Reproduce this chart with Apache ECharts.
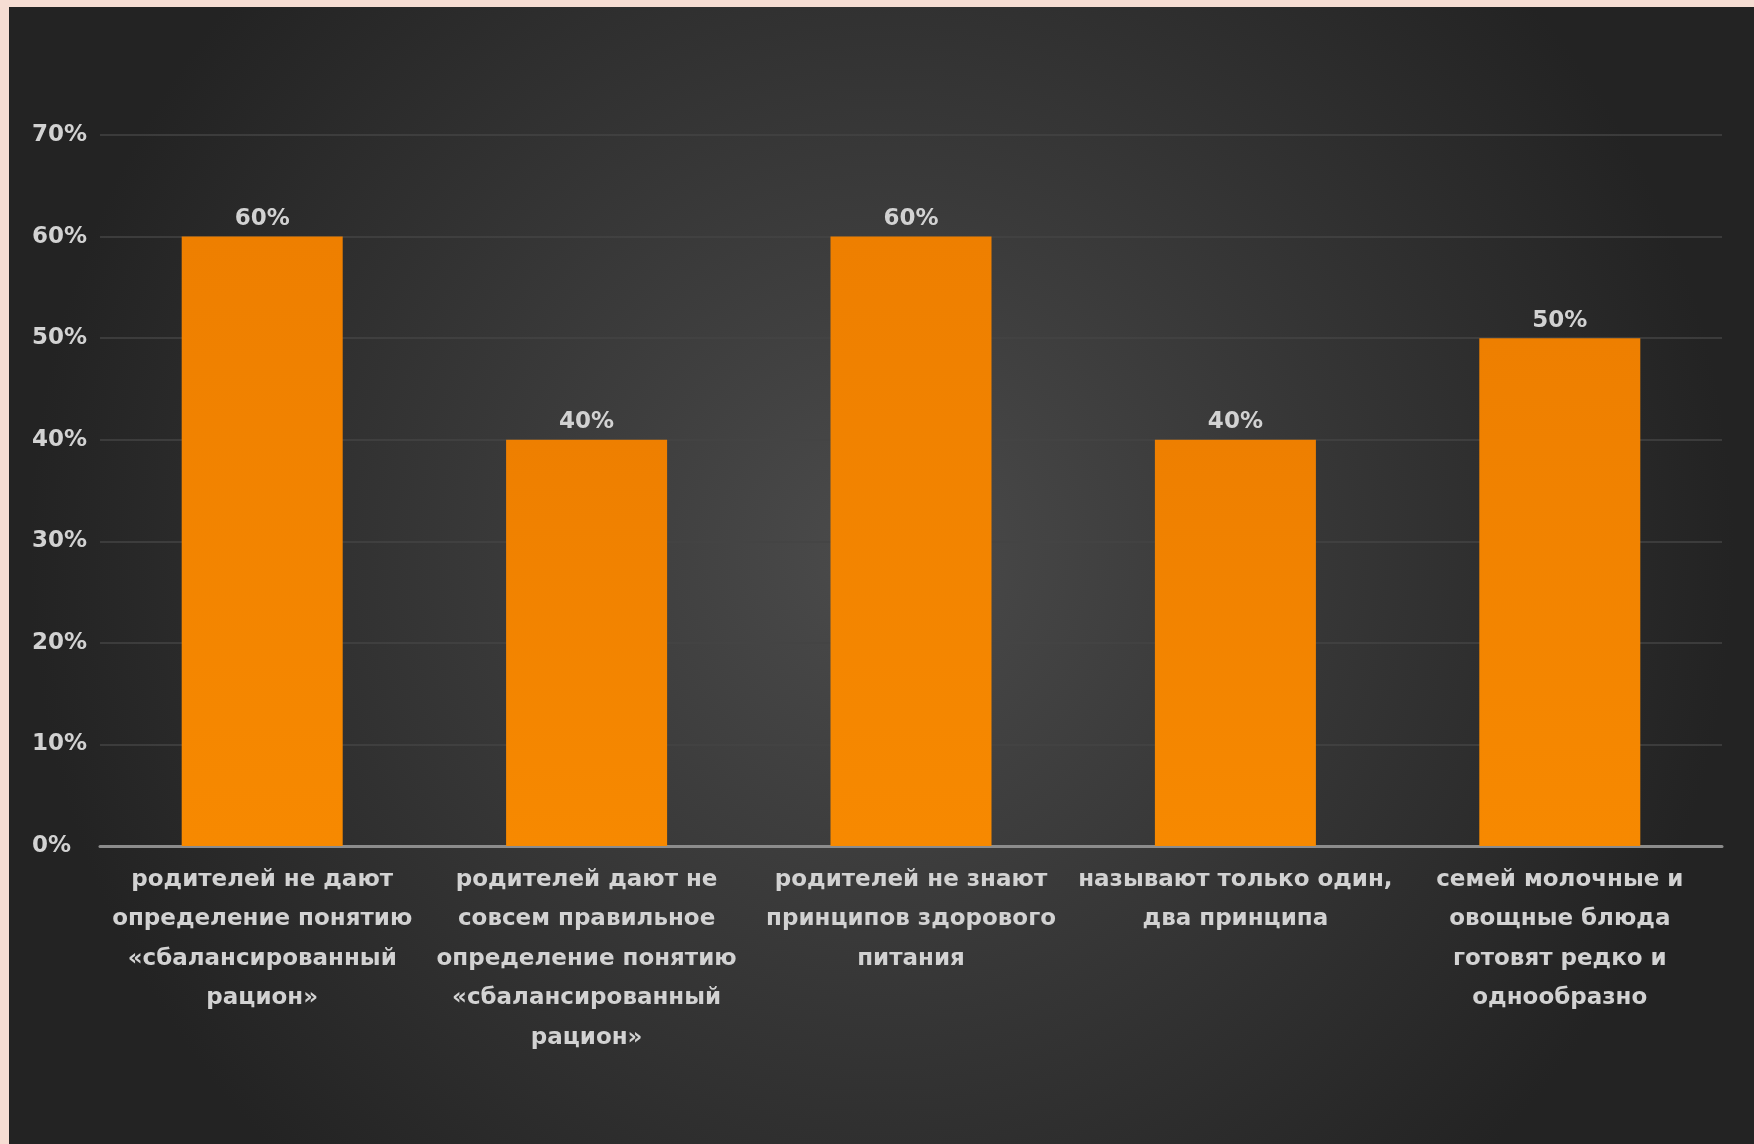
<!DOCTYPE html>
<html>
<head>
<meta charset="utf-8">
<script src="https://cdn.jsdelivr.net/npm/echarts@6/dist/echarts.min.js"></script>
<style>
  html, body { margin: 0; padding: 0; background: #f6ddd3; width: 1754px; height: 1144px; overflow: hidden; }
  #chart { position: absolute; left: 9px; top: 7px; width: 1745px; height: 1137px; }
</style>
</head>
<body>
<div id="chart"></div>
<script>
var categories = [
    'родителей не дают\nопределение понятию\n«сбалансированный\nрацион»',
    'родителей дают не\nсовсем правильное\nопределение понятию\n«сбалансированный\nрацион»',
    'родителей не знают\nпринципов здорового\nпитания',
    'называют только один,\nдва принципа',
    'семей молочные и\nовощные блюда\nготовят редко и\nоднообразно'
];
var values = [60, 40, 60, 40, 50];

var myChart = echarts.init(document.getElementById('chart'));
var textColor = '#d2d2d2';
var font = 'DejaVu Sans';

myChart.setOption({
    backgroundColor: {
        type: 'radial', x: 0.5, y: 0.48, r: 0.75,
        colorStops: [
            { offset: 0, color: '#4b4b4b' },
            { offset: 1, color: '#232323' }
        ]
    },
    grid: { left: 91, right: 32, top: 128, bottom: 298, containLabel: false },
    xAxis: {
        type: 'category',
        data: categories,
        axisLine: { lineStyle: { color: '#8c8c8c', width: 3 } },
        axisTick: { show: false },
        axisLabel: {
            color: textColor, fontFamily: font, fontSize: 23, fontWeight: 'bold',
            lineHeight: 39.5, margin: 14, interval: 0, align: 'center'
        }
    },
    yAxis: {
        type: 'value',
        min: 0, max: 70, interval: 10,
        axisLine: { show: false },
        axisTick: { show: false },
        splitLine: { lineStyle: { color: '#454545', width: 1.5 } },
        axisLabel: {
            color: textColor, fontFamily: font, fontSize: 23, fontWeight: 'bold',
            align: 'left', margin: 68,
            formatter: '{value}%'
        }
    },
    series: [{
        type: 'bar',
        data: values,
        barWidth: 161,
        itemStyle: {
            color: {
                type: 'linear', x: 0, y: 0, x2: 0, y2: 1,
                colorStops: [
                    { offset: 0, color: '#ee7f00' },
                    { offset: 1, color: '#f78900' }
                ]
            }
        },
        label: {
            show: true, position: 'top', distance: 6,
            color: textColor, fontFamily: font, fontSize: 23, fontWeight: 'bold',
            formatter: '{c}%'
        }
    }]
});
</script>
</body>
</html>
